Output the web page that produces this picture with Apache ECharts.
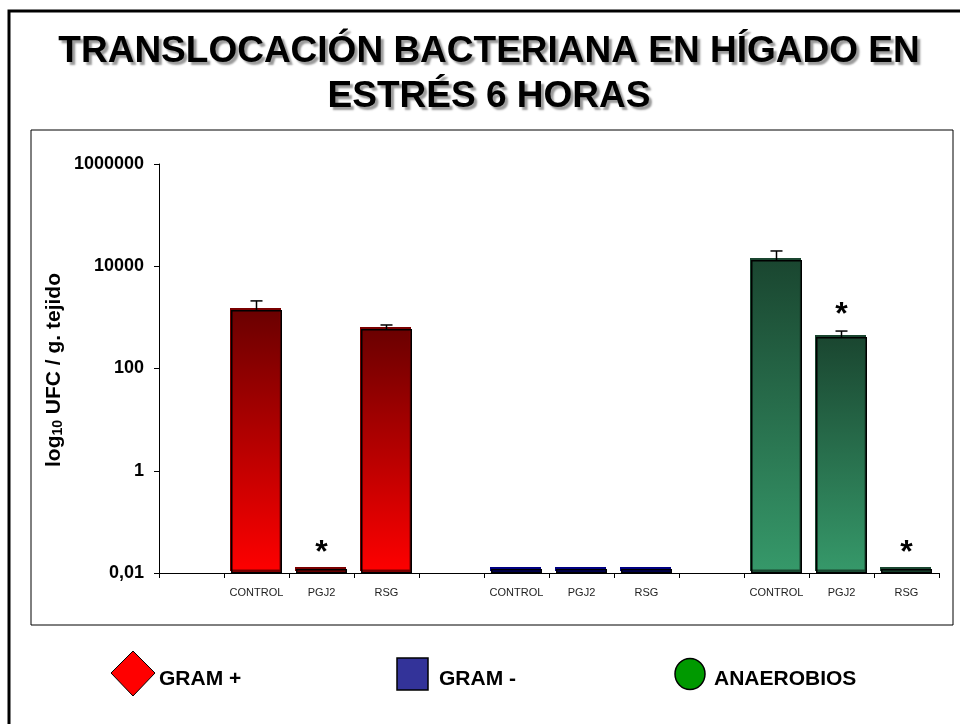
<!DOCTYPE html>
<html>
<head>
<meta charset="utf-8">
<script src="https://cdn.jsdelivr.net/npm/echarts@6/dist/echarts.min.js"></script>
<style>
  html, body { margin: 0; padding: 0; background: #fff; }
  #chart { width: 960px; height: 724px; }
</style>
</head>
<body>
<div id="chart"></div>
<script>
// Bacterial counts (UFC / g tissue), mean and SEM per treatment
const groups = ['GRAM +', 'GRAM -', 'ANAEROBIOS'];
const treatments = ['CONTROL', 'PGJ2', 'RSG'];
const gramPos = [1400, 0.012, 590];
const gramPosSem = [700, 0, 120];
const gramPosSig = [0, 1, 0];
const gramNeg = [0.012, 0.012, 0.012];
const gramNegSem = [0, 0, 0];
const gramNegSig = [0, 0, 0];
const anaerobes = [13200, 414, 0.012];
const anaerobesSem = [6700, 126, 0];
const anaerobesSig = [0, 1, 1];
const yTicks = [0.01, 1, 100, 10000, 1000000];

const FONT = "'Liberation Sans', Arial, sans-serif";

// One empty slot before each group of three treatments
const slots = [];
groups.forEach(() => { slots.push(''); treatments.forEach(t => slots.push(t)); });

const groupData = [
  { name: groups[0], values: gramPos, sem: gramPosSem, sig: gramPosSig,
    top: '#6a0000', bottom: '#ff0000', edge: '#7a0000' },
  { name: groups[1], values: gramNeg, sem: gramNegSem, sig: gramNegSig,
    top: '#000088', bottom: '#000099', edge: '#000080' },
  { name: groups[2], values: anaerobes, sem: anaerobesSem, sig: anaerobesSig,
    top: '#1a4630', bottom: '#36996a', edge: '#1a4630' }
];

function slotIndex(g, i) { return g * 4 + 1 + i; }

const series = [];
groupData.forEach((gd, g) => {
  const data = slots.map(() => null);
  gd.values.forEach((v, i) => { data[slotIndex(g, i)] = v; });
  series.push({
    type: 'bar',
    name: gd.name,
    data: data,
    barWidth: 51,
    barGap: '-100%',
    itemStyle: {
      color: new echarts.graphic.LinearGradient(0, 0, 0, 1, [
        { offset: 0, color: gd.top },
        { offset: 1, color: gd.bottom }
      ]),
      borderColor: '#000',
      borderWidth: 1.5,
      shadowColor: gd.edge,
      shadowOffsetX: -1,
      shadowOffsetY: -2,
      shadowBlur: 0
    },
    emphasis: { disabled: true },
    silent: true
  });
});

// Error bars (upper half) and significance marks
const errData = [];
groupData.forEach((gd, g) => {
  gd.values.forEach((v, i) => {
    errData.push([slotIndex(g, i), v, v + gd.sem[i], gd.sig[i]]);
  });
});
series.push({
  type: 'custom',
  data: errData,
  silent: true,
  z: 5,
  renderItem: function (params, api) {
    const x = api.value(0), v = api.value(1), hi = api.value(2), sig = api.value(3);
    const pTop = api.coord([x, v]);
    const pHi = api.coord([x, hi]);
    const children = [];
    if (hi > v) {
      children.push({ type: 'line', shape: { x1: pTop[0], y1: pTop[1], x2: pHi[0], y2: pHi[1] },
        style: { stroke: '#000', lineWidth: 1.5 } });
      children.push({ type: 'line', shape: { x1: pHi[0] - 6, y1: pHi[1], x2: pHi[0] + 6, y2: pHi[1] },
        style: { stroke: '#000', lineWidth: 1.5 } });
    }
    if (sig) {
      const yTop = Math.min(pTop[1], pHi[1]);
      children.push({ type: 'text', style: {
        text: '*', x: pTop[0], y: yTop - 16, align: 'center', verticalAlign: 'middle',
        font: 'bold 32px ' + FONT, fill: '#000' } });
    }
    return { type: 'group', children: children };
  }
});

const chart = echarts.init(document.getElementById('chart'), null, { renderer: 'canvas' });
chart.setOption({
  animation: false,
  backgroundColor: '#fff',
  grid: { left: 159, top: 164, width: 780, height: 409 },
  xAxis: {
    type: 'category',
    data: slots,
    boundaryGap: true,
    axisLine: { lineStyle: { color: '#000', width: 1 } },
    axisTick: { show: true, length: 5, lineStyle: { color: '#000' } },
    axisLabel: { interval: 0, fontFamily: FONT, fontSize: 11, color: '#222', margin: 14 },
    splitLine: { show: false }
  },
  yAxis: {
    type: 'log',
    logBase: 100,
    min: yTicks[0],
    max: yTicks[yTicks.length - 1],
    startValue: yTicks[0],
    axisLine: { show: true, lineStyle: { color: '#000', width: 1 } },
    axisTick: { show: true, length: 5, lineStyle: { color: '#000' } },
    axisLabel: {
      fontFamily: FONT, fontSize: 18, fontWeight: 'bold', color: '#000', margin: 15,
      formatter: function (v) { return String(Number(v.toPrecision(6))).replace('.', ','); }
    },
    splitLine: { show: false }
  },
  series: series,
  graphic: [
    // outer border
    { type: 'rect', shape: { x: 9, y: 11, width: 1000, height: 1000 },
      style: { fill: 'none', stroke: '#000', lineWidth: 3 }, silent: true },
    // plot frame
    { type: 'rect', shape: { x: 31, y: 130, width: 922, height: 495 },
      style: { fill: 'none', stroke: '#000', lineWidth: 1 }, silent: true, z: -1 },
    // title
    { type: 'text', x: 489, y: 52, silent: true,
      style: { text: 'TRANSLOCACIÓN BACTERIANA EN HÍGADO EN', align: 'center', verticalAlign: 'middle',
        font: 'bold 37px ' + FONT, fill: '#000',
        textShadowColor: '#9a9a9a', textShadowOffsetX: 3, textShadowOffsetY: 3, textShadowBlur: 2 } },
    { type: 'text', x: 489, y: 97, silent: true,
      style: { text: 'ESTRÉS 6 HORAS', align: 'center', verticalAlign: 'middle',
        font: 'bold 37px ' + FONT, fill: '#000',
        textShadowColor: '#9a9a9a', textShadowOffsetX: 3, textShadowOffsetY: 3, textShadowBlur: 2 } },
    // y axis title
    { type: 'text', x: 52, y: 370, rotation: Math.PI / 2, silent: true,
      style: {
        text: '{a|log}{b|10}{a| UFC / g. tejido}', align: 'center', verticalAlign: 'middle',
        rich: {
          a: { fontFamily: FONT, fontSize: 21, fontWeight: 'bold', fill: '#000', lineHeight: 26, verticalAlign: 'bottom' },
          b: { fontFamily: FONT, fontSize: 14, fontWeight: 'bold', fill: '#000', lineHeight: 21, verticalAlign: 'bottom' }
        }
      } },
    // legend
    { type: 'polygon', shape: { points: [[133, 651], [155, 673], [133, 696], [111, 673]] },
      style: { fill: '#ff0000', stroke: '#000', lineWidth: 1 }, silent: true },
    { type: 'text', x: 159, y: 679, silent: true,
      style: { text: groups[0], verticalAlign: 'middle', font: 'bold 21px ' + FONT, fill: '#000' } },
    { type: 'rect', shape: { x: 397, y: 658, width: 31, height: 32 },
      style: { fill: '#333399', stroke: '#000', lineWidth: 1.5 }, silent: true },
    { type: 'text', x: 439, y: 679, silent: true,
      style: { text: groups[1], verticalAlign: 'middle', font: 'bold 21px ' + FONT, fill: '#000' } },
    { type: 'ellipse', shape: { cx: 690, cy: 674, rx: 15, ry: 15.5 },
      style: { fill: '#009900', stroke: '#000', lineWidth: 1.5 }, silent: true },
    { type: 'text', x: 714, y: 679, silent: true,
      style: { text: groups[2], verticalAlign: 'middle', font: 'bold 21px ' + FONT, fill: '#000' } }
  ]
});
</script>
</body>
</html>
